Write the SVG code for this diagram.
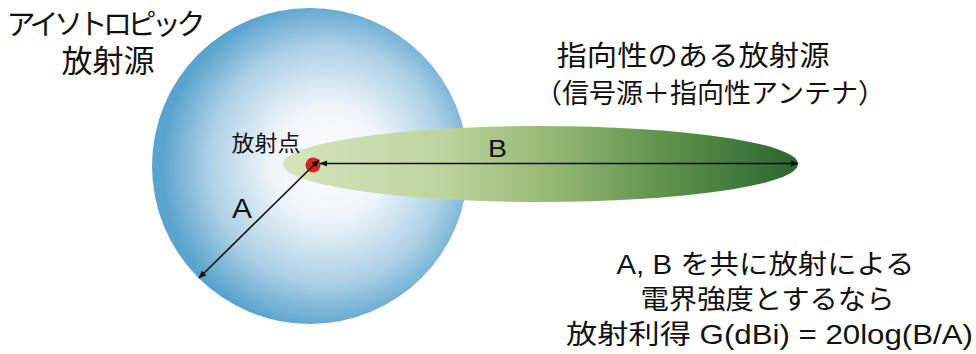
<svg xmlns="http://www.w3.org/2000/svg" width="976" height="354" viewBox="0 0 976 354">
<style>
text{font-family:"Liberation Sans","Noto Sans CJK JP",sans-serif;fill:#111;text-anchor:middle}
.arr{stroke:#111;stroke-width:1.6;fill:none;marker-start:url(#ah);marker-end:url(#ah)}
</style>
<defs>
<radialGradient id="sph" cx="0.55" cy="0.5" r="0.52" fx="0.56" fy="0.48">
<stop offset="0" stop-color="#ffffff"/>
<stop offset="0.35" stop-color="#eef5fa"/>
<stop offset="0.72" stop-color="#add0e6"/>
<stop offset="1" stop-color="#5aa3cd"/>
</radialGradient>
<linearGradient id="beam" x1="0" y1="0" x2="1" y2="0">
<stop offset="0" stop-color="#d5e4bd"/>
<stop offset="0.3" stop-color="#bfd5a0"/>
<stop offset="0.5" stop-color="#9abb78"/>
<stop offset="0.75" stop-color="#5c914a"/>
<stop offset="1" stop-color="#2a6630"/>
</linearGradient>
<marker id="ah" viewBox="0 0 10 10" refX="9" refY="5" markerWidth="8" markerHeight="8" orient="auto-start-reverse" markerUnits="userSpaceOnUse"><path d="M0,1 L10,5 L0,9 z" fill="#111"/></marker>
</defs>
<g id="sphere"><circle cx="310" cy="166" r="158" fill="url(#sph)"/></g>
<g id="beam-lobe"><ellipse cx="540.5" cy="164" rx="257.5" ry="38" fill="url(#beam)"/></g>
<g id="point"><circle cx="313" cy="165" r="7.5" fill="#e02020"/></g>
<g id="connectors">
<line class="arr" x1="320" y1="163.5" x2="798" y2="163.5"/>
<line class="arr" x1="319" y1="160" x2="199" y2="278"/>
</g>
<g id="labels">
<text x="497.5" y="157" style="font-size:23px" textLength="19" lengthAdjust="spacingAndGlyphs">B</text>
<text x="242" y="218" style="font-size:27px" textLength="20" lengthAdjust="spacingAndGlyphs">A</text>
<text x="266" y="151" style="font-size:22px" textLength="69" lengthAdjust="spacingAndGlyphs">放射点</text>
<text x="106" y="35" style="font-size:29px" textLength="199" lengthAdjust="spacing">アイソトロピック</text>
<text x="108" y="72" style="font-size:31px">放射源</text>
<text x="693" y="66" style="font-size:28px" textLength="273" lengthAdjust="spacingAndGlyphs">指向性のある放射源</text>
<text x="710" y="103" style="font-size:27px">（信号源＋指向性アンテナ）</text>
<text x="765.5" y="274" style="font-size:27px" textLength="298" lengthAdjust="spacingAndGlyphs">A, B を共に放射による</text>
<text x="767.5" y="309" style="font-size:27px" textLength="254" lengthAdjust="spacingAndGlyphs">電界強度とするなら</text>
<text x="769.5" y="344" style="font-size:27px" textLength="407" lengthAdjust="spacingAndGlyphs">放射利得 G(dBi) = 20log(B/A)</text>
</g>
</svg>
